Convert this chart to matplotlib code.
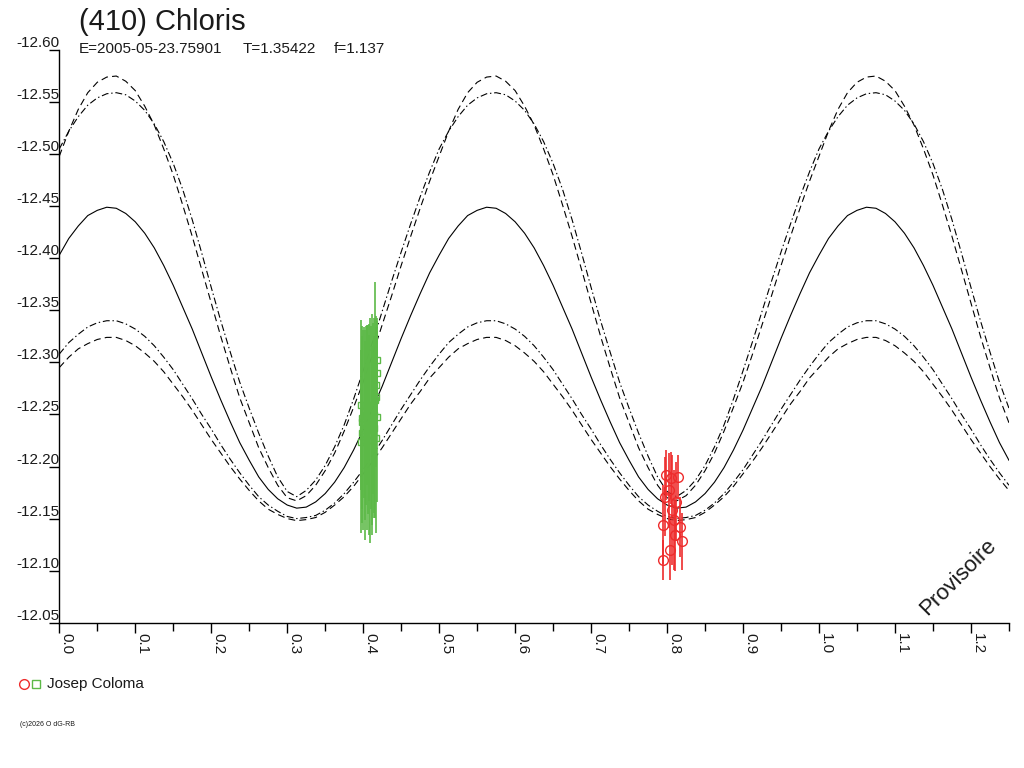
import matplotlib
matplotlib.use("Agg")
import matplotlib.pyplot as plt
from matplotlib.lines import Line2D

plt.rcParams['font.family'] = ['Liberation Sans', 'DejaVu Sans']
plt.rcParams['lines.scale_dashes'] = False

TITLE = "(410) Chloris"
SUB_E = "E=2005-05-23.75901"
SUB_T = "T=1.35422"
SUB_F = "f=1.137"
OBSERVER = "Josep Coloma"
STAMP = "Provisoire"
COPYRIGHT = "(c)2026 O dG-RB"

RED = "#ee2c2c"
GREEN = "#5cb947"
INK = "#1a1a1a"

# phase grid of the fitted curves (read every 0.0125)
phase_grid = [
    0.0000, 0.0125, 0.0250, 0.0375, 0.0500, 0.0625, 0.0750, 0.0875, 0.1000, 0.1125,
    0.1250, 0.1375, 0.1500, 0.1625, 0.1750, 0.1875, 0.2000, 0.2125, 0.2250, 0.2375,
    0.2500, 0.2625, 0.2750, 0.2875, 0.3000, 0.3125, 0.3250, 0.3375, 0.3500, 0.3625,
    0.3750, 0.3875, 0.4000, 0.4125, 0.4250, 0.4375, 0.4500, 0.4625, 0.4750, 0.4875,
    0.5000, 0.5125, 0.5250, 0.5375, 0.5500, 0.5625, 0.5750, 0.5875, 0.6000, 0.6125,
    0.6250, 0.6375, 0.6500, 0.6625, 0.6750, 0.6875, 0.7000, 0.7125, 0.7250, 0.7375,
    0.7500, 0.7625, 0.7750, 0.7875, 0.8000, 0.8125, 0.8250, 0.8375, 0.8500, 0.8625,
    0.8750, 0.8875, 0.9000, 0.9125, 0.9250, 0.9375, 0.9500, 0.9625, 0.9750, 0.9875,
    1.0000, 1.0125, 1.0250, 1.0375, 1.0500, 1.0625, 1.0750, 1.0875, 1.1000, 1.1125,
    1.1250, 1.1375, 1.1500, 1.1625, 1.1750, 1.1875, 1.2000, 1.2125, 1.2250, 1.2375,
    1.2500]

fit_mid = [
    -12.403, -12.419, -12.431, -12.441, -12.446, -12.449, -12.448, -12.443, -12.435, -12.424,
    -12.410, -12.393, -12.374, -12.353, -12.332, -12.309, -12.286, -12.264, -12.243, -12.223,
    -12.206, -12.190, -12.178, -12.169, -12.163, -12.160, -12.161, -12.166, -12.174, -12.185,
    -12.199, -12.216, -12.235, -12.256, -12.277, -12.300, -12.323, -12.345, -12.366, -12.386,
    -12.403, -12.419, -12.431, -12.441, -12.446, -12.449, -12.448, -12.443, -12.435, -12.424,
    -12.410, -12.393, -12.374, -12.353, -12.332, -12.309, -12.286, -12.264, -12.243, -12.223,
    -12.206, -12.190, -12.178, -12.169, -12.163, -12.160, -12.161, -12.166, -12.174, -12.185,
    -12.199, -12.216, -12.235, -12.256, -12.277, -12.300, -12.323, -12.345, -12.366, -12.386,
    -12.403, -12.419, -12.431, -12.441, -12.446, -12.449, -12.448, -12.443, -12.435, -12.424,
    -12.410, -12.393, -12.374, -12.353, -12.332, -12.309, -12.286, -12.264, -12.243, -12.223,
    -12.206]

fit_up_dash = [
    -12.498, -12.522, -12.543, -12.559, -12.569, -12.574, -12.575, -12.570, -12.561, -12.546,
    -12.528, -12.505, -12.480, -12.451, -12.421, -12.389, -12.357, -12.325, -12.295, -12.266,
    -12.242, -12.218, -12.199, -12.182, -12.170, -12.167, -12.172, -12.182, -12.196, -12.213,
    -12.234, -12.257, -12.281, -12.308, -12.336, -12.364, -12.393, -12.421, -12.448, -12.474,
    -12.498, -12.522, -12.543, -12.559, -12.569, -12.574, -12.575, -12.570, -12.561, -12.546,
    -12.528, -12.505, -12.480, -12.451, -12.421, -12.389, -12.357, -12.325, -12.295, -12.266,
    -12.242, -12.218, -12.199, -12.182, -12.170, -12.167, -12.172, -12.182, -12.196, -12.213,
    -12.234, -12.257, -12.281, -12.308, -12.336, -12.364, -12.393, -12.421, -12.448, -12.474,
    -12.498, -12.522, -12.543, -12.559, -12.569, -12.574, -12.575, -12.570, -12.561, -12.546,
    -12.528, -12.505, -12.480, -12.451, -12.421, -12.389, -12.357, -12.325, -12.295, -12.266,
    -12.242]

fit_up_dashdot = [
    -12.505, -12.522, -12.536, -12.547, -12.554, -12.558, -12.559, -12.557, -12.551, -12.542,
    -12.529, -12.512, -12.491, -12.466, -12.437, -12.405, -12.372, -12.340, -12.310, -12.281,
    -12.256, -12.232, -12.210, -12.190, -12.176, -12.171, -12.177, -12.187, -12.201, -12.219,
    -12.240, -12.265, -12.292, -12.320, -12.349, -12.378, -12.406, -12.433, -12.459, -12.483,
    -12.505, -12.522, -12.536, -12.547, -12.554, -12.558, -12.559, -12.557, -12.551, -12.542,
    -12.529, -12.512, -12.491, -12.466, -12.437, -12.405, -12.372, -12.340, -12.310, -12.281,
    -12.256, -12.232, -12.210, -12.190, -12.176, -12.171, -12.177, -12.187, -12.201, -12.219,
    -12.240, -12.265, -12.292, -12.320, -12.349, -12.378, -12.406, -12.433, -12.459, -12.483,
    -12.505, -12.522, -12.536, -12.547, -12.554, -12.558, -12.559, -12.557, -12.551, -12.542,
    -12.529, -12.512, -12.491, -12.466, -12.437, -12.405, -12.372, -12.340, -12.310, -12.281,
    -12.256]

fit_lo_dashdot = [
    -12.308, -12.319, -12.327, -12.334, -12.338, -12.340, -12.340, -12.337, -12.332, -12.325,
    -12.316, -12.305, -12.293, -12.279, -12.265, -12.250, -12.236, -12.221, -12.207, -12.194,
    -12.182, -12.171, -12.163, -12.157, -12.152, -12.150, -12.151, -12.153, -12.158, -12.165,
    -12.174, -12.185, -12.197, -12.211, -12.225, -12.240, -12.255, -12.269, -12.283, -12.296,
    -12.308, -12.319, -12.327, -12.334, -12.338, -12.340, -12.340, -12.337, -12.332, -12.325,
    -12.316, -12.305, -12.293, -12.279, -12.265, -12.250, -12.236, -12.221, -12.207, -12.194,
    -12.182, -12.171, -12.163, -12.157, -12.152, -12.150, -12.151, -12.153, -12.158, -12.165,
    -12.174, -12.185, -12.197, -12.211, -12.225, -12.240, -12.255, -12.269, -12.283, -12.296,
    -12.308, -12.319, -12.327, -12.334, -12.338, -12.340, -12.340, -12.337, -12.332, -12.325,
    -12.316, -12.305, -12.293, -12.279, -12.265, -12.250, -12.236, -12.221, -12.207, -12.194,
    -12.182]

fit_lo_dash = [
    -12.295, -12.305, -12.313, -12.318, -12.322, -12.324, -12.324, -12.321, -12.316, -12.309,
    -12.301, -12.291, -12.279, -12.267, -12.254, -12.240, -12.226, -12.213, -12.200, -12.188,
    -12.177, -12.167, -12.159, -12.154, -12.150, -12.148, -12.149, -12.151, -12.156, -12.163,
    -12.171, -12.181, -12.193, -12.205, -12.218, -12.232, -12.246, -12.260, -12.272, -12.285,
    -12.295, -12.305, -12.313, -12.318, -12.322, -12.324, -12.324, -12.321, -12.316, -12.309,
    -12.301, -12.291, -12.279, -12.267, -12.254, -12.240, -12.226, -12.213, -12.200, -12.188,
    -12.177, -12.167, -12.159, -12.154, -12.150, -12.148, -12.149, -12.151, -12.156, -12.163,
    -12.171, -12.181, -12.193, -12.205, -12.218, -12.232, -12.246, -12.260, -12.272, -12.285,
    -12.295, -12.305, -12.313, -12.318, -12.322, -12.324, -12.324, -12.321, -12.316, -12.309,
    -12.301, -12.291, -12.279, -12.267, -12.254, -12.240, -12.226, -12.213, -12.200, -12.188,
    -12.177]

# observations, session 1 (green squares)
green_phase = [0.3975, 0.3979, 0.3983, 0.3977, 0.4176, 0.4178, 0.4174, 0.4177, 0.4175, 0.3991,
               0.4000, 0.4009, 0.4018, 0.4028, 0.4037, 0.4046, 0.4055, 0.4064, 0.4074, 0.4083,
               0.4092, 0.4101, 0.4111, 0.4120, 0.4129, 0.4138, 0.4147, 0.4157, 0.4167]
green_mag = [-12.259, -12.243, -12.232, -12.224, -12.302, -12.290, -12.267, -12.248, -12.227, -12.247,
             -12.235, -12.252, -12.240, -12.225, -12.249, -12.237, -12.259, -12.245, -12.230, -12.252,
             -12.235, -12.247, -12.225, -12.245, -12.256, -12.237, -12.249, -12.264, -12.278]
green_err = [0.082, 0.082, 0.086, 0.088, 0.038, 0.053, 0.067, 0.082, 0.091, 0.088,
             0.096, 0.082, 0.091, 0.096, 0.086, 0.098, 0.077, 0.091, 0.096, 0.085,
             0.108, 0.088, 0.091, 0.101, 0.082, 0.086, 0.094, 0.113, 0.067]

# observations, session 2 (red circles)
red_phase = [0.7992, 0.8145, 0.7970, 0.8124, 0.7947, 0.8167, 0.8190, 0.8036, 0.7947, 0.8062,
             0.8022, 0.8088, 0.8050, 0.8100]
red_mag = [-12.192, -12.190, -12.171, -12.166, -12.144, -12.142, -12.128, -12.120, -12.110, -12.158,
           -12.177, -12.149, -12.189, -12.134]
red_err = [0.024, 0.021, 0.038, 0.038, 0.038, 0.029, 0.027, 0.029, 0.019, 0.053,
           0.036, 0.048, 0.025, 0.034]

ytick_values = [-12.60, -12.55, -12.50, -12.45, -12.40, -12.35, -12.30, -12.25, -12.20, -12.15, -12.10, -12.05]
xtick_major = [0.0, 0.1, 0.2, 0.3, 0.4, 0.5, 0.6, 0.7, 0.8, 0.9, 1.0, 1.1, 1.2]
xtick_minor = [0.05, 0.15, 0.25, 0.35, 0.45, 0.55, 0.65, 0.75, 0.85, 0.95, 1.05, 1.15, 1.25]

fig = plt.figure(figsize=(10.24, 7.68), dpi=100)
ax = fig.add_axes([0.0579, 0.1892, 0.9274, 0.7457])

DASH = (0, (5, 3))
DASHDOT = (0, (5, 2, 1, 2))
ax.plot(phase_grid, fit_up_dash, color="black", lw=0.8, ls=DASH)
ax.plot(phase_grid, fit_up_dashdot, color="black", lw=0.8, ls=DASHDOT)
ax.plot(phase_grid, fit_mid, color="black", lw=0.8)
ax.plot(phase_grid, fit_lo_dashdot, color="black", lw=0.8, ls=DASHDOT)
ax.plot(phase_grid, fit_lo_dash, color="black", lw=0.8, ls=DASH)

ax.errorbar(green_phase, green_mag, yerr=green_err, fmt="s", ms=5, mfc="none",
            mec=GREEN, mew=1, ecolor=GREEN, elinewidth=1.2, capsize=0)
ax.errorbar(red_phase, red_mag, yerr=red_err, fmt="o", ms=7, mfc="none",
            mec=RED, mew=1, ecolor=RED, elinewidth=1.2, capsize=0)

ax.set_xlim(0, 1.25)
ax.set_ylim(-12.05, -12.60)

for side in ["top", "right"]:
    ax.spines[side].set_visible(False)
for side in ["left", "bottom"]:
    ax.spines[side].set_color("black")
    ax.spines[side].set_linewidth(1)

ax.set_xticks(xtick_major)
ax.set_xticks(xtick_minor, minor=True)
ax.set_xticklabels([f"{v:.1f}" for v in xtick_major])
ax.set_yticks(ytick_values)
ax.set_yticklabels([f"{v:.2f}" for v in ytick_values])

ax.tick_params(axis="x", which="major", direction="out", length=7.2, width=1,
               pad=0, labelsize=11, labelcolor=INK, labelrotation=-90)
ax.tick_params(axis="x", which="minor", direction="out", length=5.8, width=1)
ax.tick_params(axis="y", which="major", direction="out", length=7.2, width=1,
               pad=-7.2, labelsize=11, labelcolor=INK)
plt.setp(ax.get_xticklabels(), ha="left", va="top")
plt.setp(ax.get_yticklabels(), va="bottom")

# header
fig.text(79 / 1024, 1 - 30 / 768, TITLE, fontsize=21, color=INK, va="baseline")
fig.text(79 / 1024, 1 - 53 / 768, SUB_E, fontsize=11, color=INK, va="baseline")
fig.text(243 / 1024, 1 - 53 / 768, SUB_T, fontsize=11, color=INK, va="baseline")
fig.text(334 / 1024, 1 - 53 / 768, SUB_F, fontsize=11, color=INK, va="baseline")

# stamp
fig.text(958 / 1024, 1 - 577 / 768, STAMP, fontsize=16, color=INK, rotation=45,
         ha="center", va="center")

# observer key
fig.add_artist(Line2D([24 / 1024], [1 - 684 / 768], transform=fig.transFigure,
                      marker="o", ms=7, mfc="none", mec=RED, mew=1, ls="none"))
fig.add_artist(Line2D([36 / 1024], [1 - 684 / 768], transform=fig.transFigure,
                      marker="s", ms=6, mfc="none", mec=GREEN, mew=1, ls="none"))
fig.text(47 / 1024, 1 - 684 / 768, OBSERVER, fontsize=11, color=INK, va="center")

fig.text(20 / 1024, 1 - 725 / 768, COPYRIGHT, fontsize=5, color=INK, va="center")

fig.savefig("out.png", dpi=100, facecolor="white")
